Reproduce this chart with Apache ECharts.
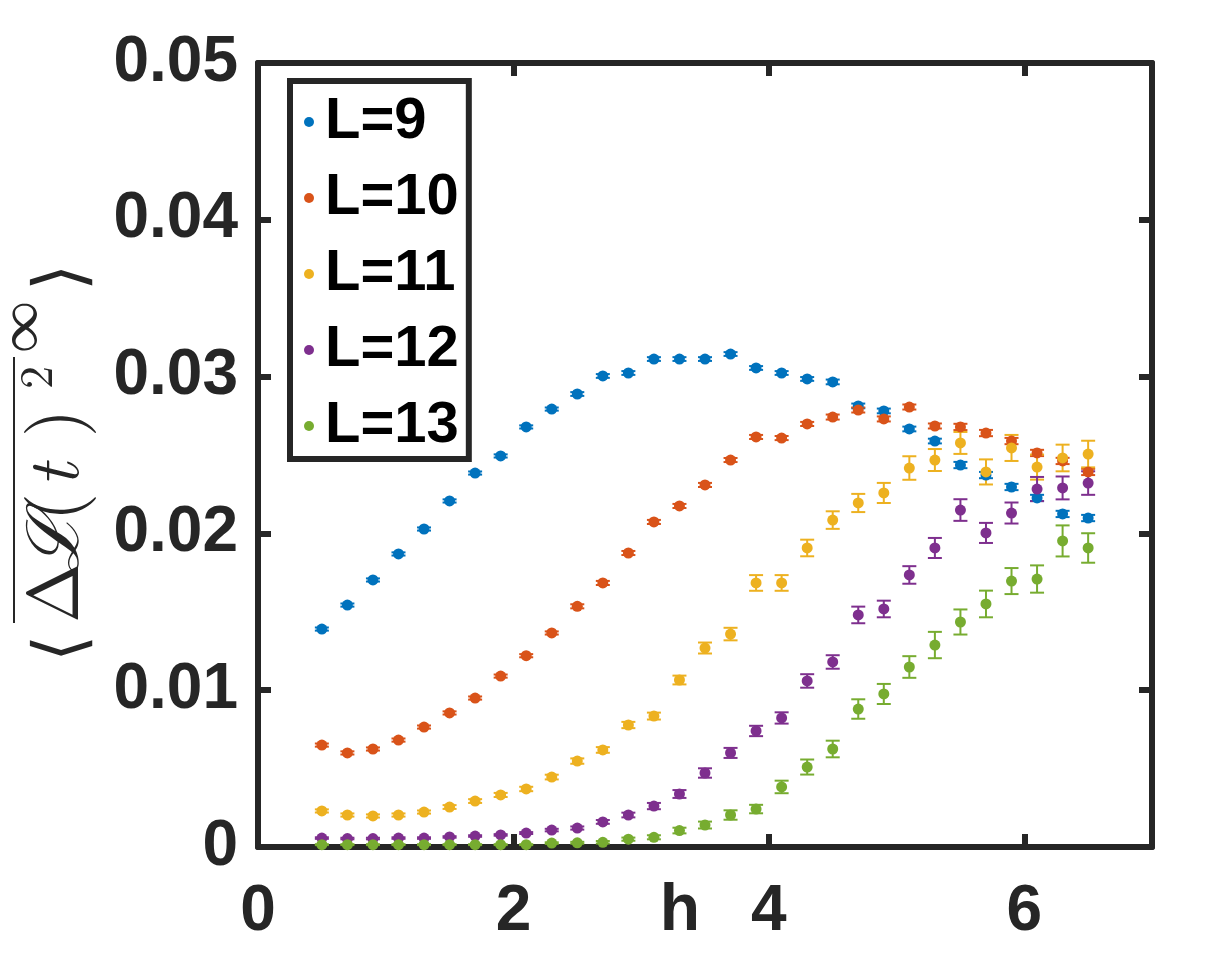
<!DOCTYPE html>
<html>
<head>
<meta charset="utf-8">
<script src="https://cdn.jsdelivr.net/npm/echarts@6/dist/echarts.min.js"></script>
<style>
html, body { margin: 0; padding: 0; background: #fff; }
#chart { width: 1225px; height: 964px; }
</style>
</head>
<body>
<div id="chart"></div>
<script>
var hValues = [0.5, 0.7, 0.9, 1.1, 1.3, 1.5, 1.7, 1.9, 2.1, 2.3, 2.5, 2.7, 2.9, 3.1, 3.3, 3.5,
    3.7, 3.9, 4.1, 4.3, 4.5, 4.7, 4.9, 5.1, 5.3, 5.5, 5.7, 5.9, 6.1, 6.3, 6.5];

var seriesNames = ['L=9', 'L=10', 'L=11', 'L=12', 'L=13'];
var seriesColors = ['#0072BD', '#D95319', '#EDB120', '#7E2F8E', '#77AC30'];

var l9 = [0.0139, 0.01543, 0.01703, 0.01869, 0.02028, 0.02207, 0.02385, 0.02494, 0.02679, 0.02793,
    0.02889, 0.03004, 0.03023, 0.03112, 0.03112, 0.03112, 0.03144, 0.03055, 0.03023, 0.02985,
    0.02966, 0.02813, 0.02781, 0.02666, 0.02589, 0.02436, 0.02372, 0.02296, 0.02226, 0.02124, 0.02098];
var l10 = [0.0065, 0.0060, 0.00625, 0.00682, 0.00765, 0.00855, 0.0095, 0.0109, 0.0122, 0.01365,
    0.01535, 0.01684, 0.01875, 0.02073, 0.02175, 0.02309, 0.02468, 0.02615, 0.02608, 0.02698,
    0.02742, 0.02787, 0.0273, 0.02806, 0.02685, 0.02679, 0.0264, 0.02589, 0.02513, 0.02462, 0.02392];
var l11 = [0.0023, 0.00204, 0.00198, 0.00204, 0.00223, 0.00255, 0.00293, 0.00332, 0.0037, 0.00446,
    0.00548, 0.00619, 0.00778, 0.00835, 0.01065, 0.01269, 0.01358, 0.01684, 0.01684, 0.01907,
    0.02085, 0.02194, 0.02258, 0.02417, 0.02468, 0.02577, 0.02392, 0.02545, 0.02423, 0.02481, 0.02506];
var l12 = [0.00057, 0.00054, 0.00054, 0.00057, 0.00057, 0.00064, 0.0007, 0.00077, 0.00089, 0.00108,
    0.00121, 0.0016, 0.00204, 0.00261, 0.00338, 0.00472, 0.006, 0.0074, 0.00823, 0.01059,
    0.0118, 0.0148, 0.01518, 0.01735, 0.01907, 0.02149, 0.02003, 0.0213, 0.02283, 0.0229, 0.02321];
var l13 = [0.00015, 0.00015, 0.00015, 0.00015, 0.00015, 0.00015, 0.00015, 0.00015, 0.00015, 0.00025,
    0.00027, 0.0003, 0.0005, 0.00062, 0.00105, 0.0014, 0.00204, 0.00242, 0.00383, 0.0051,
    0.00625, 0.0088, 0.00976, 0.01148, 0.01288, 0.01435, 0.0155, 0.01696, 0.01709, 0.01952, 0.01907];

// error bar half-heights
var l9Err = [0.0001, 0.0001, 0.0001, 0.0001, 0.0001, 0.0001, 0.0001, 0.0001, 0.0001, 0.0001,
    0.00012, 0.00012, 0.00012, 0.00012, 0.00012, 0.00012, 0.00012, 0.00012, 0.00012, 0.00012,
    0.00015, 0.00015, 0.00015, 0.00015, 0.00015, 0.0002, 0.0002, 0.0002, 0.0002, 0.0002, 0.0002];
var l10Err = [0.0001, 0.0001, 0.0001, 0.0001, 0.0001, 0.0001, 0.0001, 0.0001, 0.0001, 0.0001,
    0.00013, 0.00013, 0.00013, 0.00013, 0.00013, 0.00013, 0.00013, 0.00013, 0.00013, 0.00013,
    0.00016, 0.00016, 0.00016, 0.00016, 0.00016, 0.0002, 0.0002, 0.0002, 0.0002, 0.0002, 0.0002];
var l11Err = [0.0001, 0.0001, 0.0001, 0.0001, 0.0001, 0.00012, 0.00012, 0.00013, 0.00014, 0.00015,
    0.00017, 0.00018, 0.0002, 0.00022, 0.00028, 0.00035, 0.0004, 0.0005, 0.0005, 0.00053,
    0.00056, 0.00058, 0.00064, 0.00075, 0.0007, 0.0007, 0.0008, 0.00083, 0.0008, 0.00085, 0.00085];
var l12Err = [0.00005, 0.00005, 0.00005, 0.00005, 0.00005, 0.00005, 0.00005, 0.00005, 0.00006, 0.00008,
    0.0001, 0.00012, 0.00015, 0.0002, 0.00025, 0.0003, 0.00032, 0.00033, 0.00036, 0.00043,
    0.00043, 0.00053, 0.00053, 0.00056, 0.00064, 0.00069, 0.00064, 0.00067, 0.00077, 0.00073, 0.00075];
var l13Err = [0.00003, 0.00003, 0.00003, 0.00003, 0.00003, 0.00003, 0.00003, 0.00003, 0.00003, 0.00005,
    0.00006, 0.00008, 0.0001, 0.00013, 0.00018, 0.00022, 0.0003, 0.00027, 0.0004, 0.00048,
    0.00053, 0.00062, 0.00064, 0.00069, 0.00084, 0.0008, 0.00085, 0.00083, 0.00087, 0.00099, 0.00094];

var xTicks = [0, 2, 4, 6];
var yTickLabels = ['0', '0.01', '0.02', '0.03', '0.04', '0.05'];

var allValues = [l9, l10, l11, l12, l13];
var allErrors = [l9Err, l10Err, l11Err, l12Err, l13Err];

var axisColor = '#262626';
var labelFont = 'Liberation Sans, Arial, sans-serif';

function errorBarItem(params, api) {
    var x = api.value(0);
    var pLo = api.coord([x, api.value(1)]);
    var pHi = api.coord([x, api.value(2)]);
    var w = 7;
    var style = { stroke: api.visual('color'), lineWidth: 2 };
    return {
        type: 'group',
        children: [
            { type: 'line', shape: { x1: pLo[0], y1: pLo[1], x2: pHi[0], y2: pHi[1] }, style: style },
            { type: 'line', shape: { x1: pLo[0] - w, y1: pLo[1], x2: pLo[0] + w, y2: pLo[1] }, style: style },
            { type: 'line', shape: { x1: pHi[0] - w, y1: pHi[1], x2: pHi[0] + w, y2: pHi[1] }, style: style }
        ]
    };
}

var series = [];
seriesNames.forEach(function (name, i) {
    var vals = allValues[i];
    var errs = allErrors[i];
    series.push({
        name: name + ' err',
        type: 'custom',
        renderItem: errorBarItem,
        itemStyle: { color: seriesColors[i] },
        encode: { x: 0, y: [1, 2] },
        data: hValues.map(function (h, k) { return [h, vals[k] - errs[k], vals[k] + errs[k]]; }),
        silent: true
    });
    series.push({
        name: name,
        type: 'scatter',
        symbol: 'circle',
        symbolSize: 11,
        itemStyle: { color: seriesColors[i], opacity: 1 },
        data: hValues.map(function (h, k) { return [h, vals[k]]; })
    });
});

function frameAxis(pos, isX) {
    var ax = {
        type: 'value',
        position: pos,
        min: 0,
        max: isX ? 7 : 0.05,
        interval: isX ? 2 : 0.01,
        axisLine: { show: true, onZero: false, lineStyle: { color: axisColor, width: 6 } },
        axisTick: { show: true, inside: true, length: 13, lineStyle: { color: axisColor, width: 6 } },
        axisLabel: { show: false },
        splitLine: { show: false }
    };
    return ax;
}

var xBottom = frameAxis('bottom', true);
xBottom.axisLabel = {
    show: true, showMaxLabel: false, margin: 33,
    fontSize: 64, fontWeight: 'bold', color: axisColor, fontFamily: labelFont,
    formatter: function (v) { return xTicks.indexOf(v) >= 0 ? String(v) : ''; }
};
xBottom.name = 'h';
xBottom.nameLocation = 'middle';
xBottom.nameGap = 32;
xBottom.nameMoveOverlap = false;
xBottom.nameTextStyle = {
    fontSize: 66, fontWeight: 'bold', color: axisColor, fontFamily: labelFont,
    padding: [0, 50, 0, 0]
};

var yLeft = frameAxis('left', false);
yLeft.axisLabel = {
    show: true, margin: 20,
    fontSize: 64, fontWeight: 'bold', color: axisColor, fontFamily: labelFont,
    formatter: function (v) { return yTickLabels[Math.round(v * 100)]; }
};

var chart = echarts.init(document.getElementById('chart'), null, { renderer: 'canvas' });

var serif = 'Latin Modern Roman, DejaVu Serif, Liberation Serif, serif';
var option = {
    animation: false,
    backgroundColor: '#ffffff',
    grid: { left: 258, right: 73, top: 63, bottom: 117, containLabel: false, outerBoundsMode: 'none' },
    xAxis: [xBottom, frameAxis('top', true)],
    yAxis: [yLeft, frameAxis('right', false)],
    legend: {
        data: seriesNames.map(function (n) { return { name: n, icon: 'circle' }; }),
        orient: 'vertical',
        left: 290,
        top: 81,
        itemWidth: 10,
        itemHeight: 10,
        itemGap: 18,
        padding: [12, 10, 4, 14],
        backgroundColor: '#ffffff',
        borderColor: axisColor,
        borderWidth: 6,
        borderRadius: 0,
        textStyle: {
            fontSize: 58, fontWeight: 'bold', color: '#000000', fontFamily: labelFont,
            lineHeight: 58, padding: [0, 0, 0, 6]
        }
    },
    graphic: [{
        type: 'group',
        x: 56,
        y: 457,
        rotation: Math.PI / 2,
        children: [
            { type: 'text', x: -205, y: 6, style: { text: '\u27E8', font: '70px ' + serif, fill: '#262626', verticalAlign: 'middle' } },
            { type: 'text', x: -166, y: 0, style: { text: '\u0394', font: '72px ' + serif, fill: '#262626', verticalAlign: 'middle' } },
            { type: 'text', x: -116, y: 0, style: { text: '\u2112', font: 'italic 72px ' + serif, fill: '#262626', verticalAlign: 'middle' } },
            { type: 'text', x: -64, y: 0, style: { text: '(', font: '72px ' + serif, fill: '#262626', verticalAlign: 'middle' } },
            { type: 'text', x: -30, y: 0, style: { text: 't', font: 'italic 72px ' + serif, fill: '#262626', verticalAlign: 'middle' } },
            { type: 'text', x: 20, y: 0, style: { text: ')', font: '72px ' + serif, fill: '#262626', verticalAlign: 'middle' } },
            { type: 'text', x: 68, y: -18, style: { text: '2', font: '46px ' + serif, fill: '#262626', verticalAlign: 'middle' } },
            { type: 'line', shape: { x1: -166, y1: -42, x2: 100, y2: -42 }, style: { stroke: '#262626', lineWidth: 2 } },
            { type: 'text', x: 104, y: -36, style: { text: '\u221E', font: '52px ' + serif, fill: '#262626', verticalAlign: 'middle' } },
            { type: 'text', x: 166, y: 6, style: { text: '\u27E9', font: '70px ' + serif, fill: '#262626', verticalAlign: 'middle' } }
        ]
    }],
    series: series
};

chart.setOption(option);
window.onresize = function () {
    chart.resize();
};
</script>
</body>
</html>
